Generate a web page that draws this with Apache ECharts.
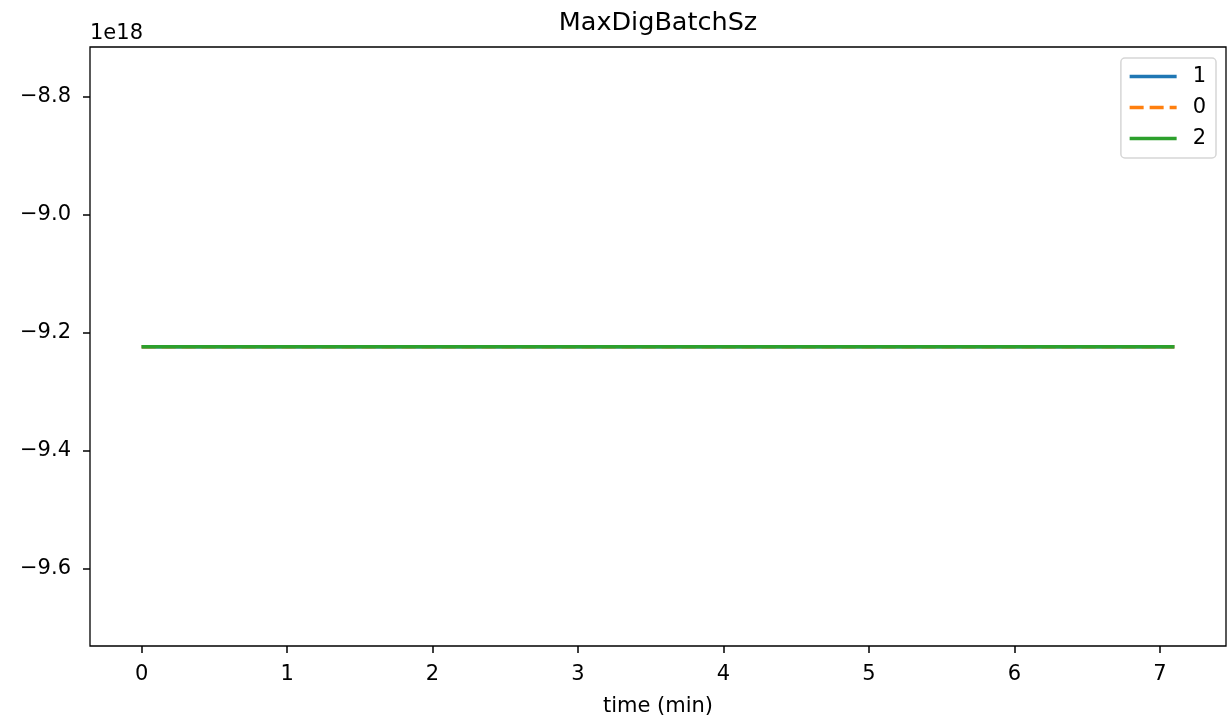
<!DOCTYPE html>
<html>
<head>
<meta charset="utf-8">
<script src="https://cdn.jsdelivr.net/npm/echarts@6/dist/echarts.min.js"></script>
<style>
  html, body { margin: 0; padding: 0; background: #fff; }
  #chart { width: 1227px; height: 716px; }
</style>
</head>
<body>
<div id="chart"></div>
<script>
// values are in units of 1e18
const times = [0, 1, 2, 3, 4, 5, 6, 7, 7.1]
const seriesNames = ['1', '0', '2']
const values1 = [-9.223372, -9.223372, -9.223372, -9.223372, -9.223372, -9.223372, -9.223372, -9.223372, -9.223372]
const values0 = [-9.223372, -9.223372, -9.223372, -9.223372, -9.223372, -9.223372, -9.223372, -9.223372, -9.223372]
const values2 = [-9.223372, -9.223372, -9.223372, -9.223372, -9.223372, -9.223372, -9.223372, -9.223372, -9.223372]
const xTicks = [0, 1, 2, 3, 4, 5, 6, 7]
const yTicks = [-9.6, -9.4, -9.2, -9.0, -8.8]

const font = 'DejaVu Sans'
const colors = ['#1f77b4', '#ff7f0e', '#2ca02c']
const allValues = [values1, values0, values2]

const chart = echarts.init(document.getElementById('chart'))

const series = seriesNames.map((name, i) => ({
  name: name,
  type: 'line',
  data: times.map((t, j) => [t, allValues[i][j]]),
  symbol: 'none',
  z: i + 2,
  lineStyle: {
    color: colors[i],
    width: 3.5,
    type: i === 1 ? [14, 6] : 'solid' // series "0" is dashed
  },
  itemStyle: { color: colors[i] }
}))

chart.setOption({
  animation: false,
  textStyle: { fontFamily: font },
  title: {
    text: 'MaxDigBatchSz',
    left: 658,
    top: 10,
    textAlign: 'center',
    padding: 0,
    textStyle: { fontFamily: font, fontSize: 25.5, fontWeight: 'normal', color: '#000' }
  },
  legend: {
    orient: 'vertical',
    right: 11,
    top: 58,
    padding: [8, 10, 9, 7],
    itemWidth: 47,
    itemHeight: 14,
    itemGap: 10,
    borderColor: '#d6d6d6',
    borderWidth: 1.5,
    borderRadius: 4,
    data: seriesNames,
    itemStyle: { opacity: 0 },
    lineStyle: { width: 3.5 },
    textStyle: { fontFamily: font, fontSize: 21, lineHeight: 21, color: '#000', padding: [0, 0, 0, 11] }
  },
  graphic: [{
    type: 'text',
    left: 90,
    top: 23,
    style: { text: '1e18', fontFamily: font, fontSize: 21, fill: '#000' }
  }],
  grid: {
    left: 90,
    right: 1,
    top: 47,
    bottom: 70,
    show: true,
    borderColor: '#000',
    borderWidth: 1.3,
    containLabel: false,
    outerBoundsMode: 'none'
  },
  xAxis: {
    type: 'value',
    min: -0.355,
    max: 7.455,
    name: 'time (min)',
    nameLocation: 'middle',
    nameGap: 50,
    nameTextStyle: { fontFamily: font, fontSize: 21, color: '#000' },
    axisLine: { show: false, onZero: false },
    splitLine: { show: false },
    axisTick: { show: true, length: 7, lineStyle: { color: '#000', width: 1.5 }, customValues: xTicks },
    axisLabel: { fontFamily: font, fontSize: 21, color: '#000', margin: 18, customValues: xTicks }
  },
  yAxis: {
    type: 'value',
    min: -9.7305,
    max: -8.7155,
    axisLine: { show: false, onZero: false },
    splitLine: { show: false },
    axisTick: { show: true, length: 7, lineStyle: { color: '#000', width: 1.5 }, customValues: yTicks },
    axisLabel: {
      fontFamily: font,
      fontSize: 21,
      color: '#000',
      margin: 19,
      customValues: yTicks,
      formatter: v => v.toFixed(1).replace('-', '\u2212')
    }
  },
  series: series
})
</script>
</body>
</html>
